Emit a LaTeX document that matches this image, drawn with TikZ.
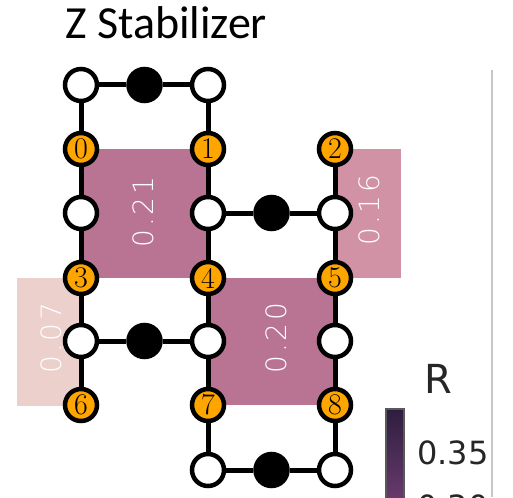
\documentclass[tikz,border=0pt]{standalone}
\usepackage{fontspec}
\newfontfamily\titlefont{Carlito}
\newfontfamily\valfont[UprightFont=* ExtraLight, LetterSpace=10]{DejaVu Sans}
\newfontfamily\barfont{DejaVu Sans}
\usetikzlibrary{backgrounds}
\definecolor{qorange}{HTML}{FFA500}
\definecolor{plaqdark}{HTML}{B97494}
\definecolor{plaqmid}{HTML}{D292A6}
\definecolor{plaqlight}{HTML}{EBD0CC}
\definecolor{bartop}{HTML}{2E1E3E}
\definecolor{barbot}{HTML}{6C3C70}
\begin{document}
\begin{tikzpicture}[x=1pt, y=-1pt,
  site/.style={circle, draw=black, line width=4.5pt, minimum size=32pt, inner sep=0pt},
  data/.style={site, fill=qorange, font=\fontsize{30}{30}\selectfont},
  anc/.style={site, fill=white},
  meas/.style={site, fill=black},
  bond/.style={line width=5pt},
  val/.style={text=white, rotate=90, inner sep=0pt, font=\valfont\fontsize{28}{28}\selectfont},
  barlabel/.style={anchor=base west, inner sep=0pt, text=black!85}]
  \useasboundingbox (0,0) rectangle (513,497);
  \clip (0,0) rectangle (513,497);
  % title
  \node[anchor=base west, inner sep=0pt, font=\titlefont\fontsize{46}{46}\selectfont] (title) at (65,39) {Z Stabilizer};
  % data qubits
  \foreach \n/\x/\y in {0/81/149, 1/208/149, 2/335/149,
                        3/81/278, 4/208/278, 5/335/278,
                        6/81/405, 7/208/405, 8/335/405}
    \node[data] (q\n) at (\x,\y) {\n};
  % ancilla qubits
  \foreach \n/\x/\y in {t0/81/85, t1/208/85,
                        a2/81/213, b2/208/213, c2/335/213,
                        a4/81/341, b4/208/341, c4/335/341,
                        b6/208/470, c6/335/470}
    \node[anc] (w\n) at (\x,\y) {};
  \foreach \n/\x/\y in {0/144.5/85, 2/271.5/213, 4/144.5/341, 6/271.5/470}
    \node[meas] (m\n) at (\x,\y) {};
  % bonds
  \foreach \a/\b in {wt0/q0, q0/wa2, wa2/q3, q3/wa4, wa4/q6,
                     wt1/q1, q1/wb2, wb2/q4, q4/wb4, wb4/q7, q7/wb6,
                     q2/wc2, wc2/q5, q5/wc4, wc4/q8, q8/wc6,
                     wt0/m0, m0/wt1, wb2/m2, m2/wc2,
                     wa4/m4, m4/wb4, wb6/m6, m6/wc6}
    \draw[bond] (\a) -- (\b);
  % plaquettes
  \begin{scope}[on background layer]
    \fill[plaqdark] (q0.center) rectangle (q4.center);
    \fill[plaqdark] (q4.center) rectangle (q8.center);
    \fill[plaqmid] (q2.center) rectangle (401,278);
    \fill[plaqlight] (17,278) rectangle (81,406);
  \end{scope}
  \node[val] (v0) at (143,212) {0.21};
  \node[val] (v1) at (369,210) {0.16};
  \node[val] (v2) at (51,338) {0.07};
  \node[val] (v3) at (276,338) {0.20};
  % colour bar
  \draw[gray!45, line width=1.5pt] (492,70) -- (492,497);
  \shade[top color=bartop, bottom color=barbot, draw=black!65, line width=2.5pt] (386,409) rectangle (404,505);
  \node[barlabel, font=\barfont\fontsize{40}{40}\selectfont] (rlab) at (424,393) {R};
  \node[barlabel, font=\barfont\fontsize{32}{32}\selectfont] (t35) at (417,464) {0.35};
  \node[barlabel, font=\barfont\fontsize{32}{32}\selectfont] (t30) at (417,518) {0.30};
\end{tikzpicture}
\end{document}
